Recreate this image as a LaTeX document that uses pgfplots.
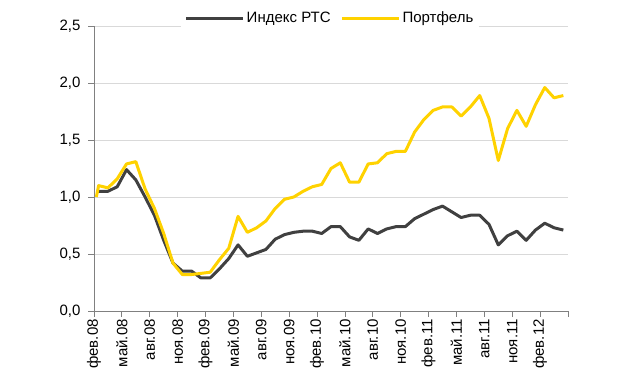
\documentclass[border=0pt]{standalone}
\usepackage{pgfplots}
\pgfplotsset{compat=1.18}
\usepackage{fontspec}
\setmainfont{Liberation Sans}
\definecolor{rtsgray}{RGB}{64,64,64}
\definecolor{portyellow}{RGB}{255,210,0}
\definecolor{gridgray}{RGB}{217,217,217}
\definecolor{axisgray}{RGB}{128,128,128}
\begin{document}
\begin{tikzpicture}
\path[use as bounding box] (0,0) rectangle (630pt,380pt);
\begin{axis}[
  at={(94pt,69pt)}, anchor=south west,
  scale only axis, width=474pt, height=285pt,
  xmin=0, xmax=51, ymin=0, ymax=2.5,
  axis x line*=bottom, axis y line*=left,
  axis line style={-, draw=axisgray, line width=0.8pt},
  xtick={0,3,...,51},
  xticklabels={фев.08,май.08,авг.08,ноя.08,фев.09,май.09,авг.09,ноя.09,фев.10,май.10,авг.10,ноя.10,фев.11,май.11,авг.11,ноя.11,фев.12,{}},
  xticklabel style={rotate=90, anchor=east, font=\fontsize{15}{16}\selectfont, inner xsep=2pt},
  ytick={0,0.5,...,2.5},
  yticklabel style={font=\fontsize{15}{16}\selectfont, xshift=-4pt},
  /pgf/number format/assume math mode=true,
  /pgf/number format/.cd, use comma, fixed, fixed zerofill, precision=1,
  /pgfplots/.cd,
  tick align=outside, major tick length=6pt,
  tick style={draw=axisgray, line width=0.8pt},
  ymajorgrids, major grid style={draw=gridgray, line width=0.8pt},
  legend style={at={(0.498,1.028)}, anchor=center, draw=none, fill=white,
    font=\fontsize{15}{16}\selectfont, legend columns=2,
    /tikz/every even column/.append style={column sep=8pt},
    inner xsep=4pt, inner ysep=2pt},
  legend image code/.code={\draw[#1] (0pt,0pt) -- (57pt,0pt);},
  clip=false,
]
\addplot[rtsgray, line width=3pt, line join=round] coordinates {
(0.25,1.05)(0.5,1.05)(1.5,1.05)(2.5,1.09)(3.5,1.24)(4.5,1.15)(5.5,1.00)(6.5,0.84)(7.5,0.62)(8.5,0.42)
(9.5,0.35)(10.5,0.35)(11.5,0.29)(12.5,0.29)(13.5,0.37)(14.5,0.46)(15.5,0.58)(16.5,0.48)(17.5,0.51)(18.5,0.54)
(19.5,0.63)(20.5,0.67)(21.5,0.69)(22.5,0.70)(23.5,0.70)(24.5,0.68)(25.5,0.74)(26.5,0.74)(27.5,0.65)(28.5,0.62)
(29.5,0.72)(30.5,0.68)(31.5,0.72)(32.5,0.74)(33.5,0.74)(34.5,0.81)(35.5,0.85)(36.5,0.89)(37.5,0.92)(38.5,0.87)
(39.5,0.82)(40.5,0.84)(41.5,0.84)(42.5,0.76)(43.5,0.58)(44.5,0.66)(45.5,0.70)(46.5,0.62)(47.5,0.71)(48.5,0.77)
(49.5,0.73)(50.5,0.71)
};
\addlegendentry{Индекс РТС}
\addplot[portyellow, line width=3pt, line join=round] coordinates {
(0.25,1.00)(0.5,1.10)(1.5,1.08)(2.5,1.16)(3.5,1.29)(4.5,1.31)(5.5,1.07)(6.5,0.90)(7.5,0.68)(8.5,0.42)
(9.5,0.32)(10.5,0.32)(11.5,0.33)(12.5,0.34)(13.5,0.45)(14.5,0.55)(15.5,0.83)(16.5,0.69)(17.5,0.73)(18.5,0.79)
(19.5,0.90)(20.5,0.98)(21.5,1.00)(22.5,1.05)(23.5,1.09)(24.5,1.11)(25.5,1.25)(26.5,1.30)(27.5,1.13)(28.5,1.13)
(29.5,1.29)(30.5,1.30)(31.5,1.38)(32.5,1.40)(33.5,1.40)(34.5,1.57)(35.5,1.68)(36.5,1.76)(37.5,1.79)(38.5,1.79)
(39.5,1.71)(40.5,1.79)(41.5,1.89)(42.5,1.69)(43.5,1.32)(44.5,1.60)(45.5,1.76)(46.5,1.62)(47.5,1.81)(48.5,1.96)
(49.5,1.87)(50.5,1.89)
};
\addlegendentry{Портфель}
\end{axis}
\end{tikzpicture}
\end{document}
